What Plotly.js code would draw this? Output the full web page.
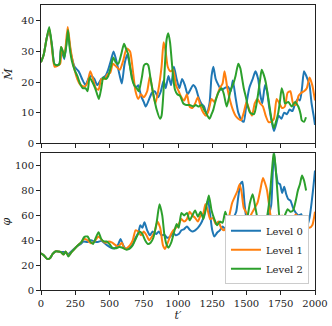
<!DOCTYPE html>
<html>
<head>
<meta charset="utf-8">
<script src="https://cdn.plot.ly/plotly-3.0.1.min.js"></script>
<style>
body{margin:0;background:white;}
#grafik{width:332px;height:326px;}
</style>
</head>
<body>
<div id="grafik"></div>
<script>
let namaLevel=["Level 0","Level 1","Level 2"];
let warna=["#1f77b4","#ff7f0e","#2ca02c"];

// Mdot, level 0
let tMdot0=[0,20,40,60,80,100,120,135,146,170,195,220,245,275,300,325,345,365,390,410,440,470,490,510,530,555,575,590,610,630,650,670,690,710,730,750,765,790,810,830,855,875,895,910,930,950,970,990,1010,1030,1050,1070,1090,1110,1130,1150,1170,1190,1210,1230,1245,1258,1275,1295,1315,1340,1365,1385,1400,1420,1440,1465,1480,1500,1520,1545,1565,1585,1600,1615,1635,1650,1665,1680,1700,1715,1735,1755,1775,1795,1815,1835,1855,1875,1890,1905,1920,1945,1960,1975,1990,2000];
let mdot0=[26.5,29,34,37,32,25.5,25.5,26,31,27.5,36,29,25,23.5,21,19,21,22,21,19,21,22,24,27,30,26,22,19.5,26,29,25,21,18,19,15.5,13.5,12,14.5,16.5,17,15,17,20.5,18,22,19,25,21,18,21,19,16,17.5,19,18,15,13,12,9.5,13,22,25,21,19,17.5,18,18.5,17,20.5,15,10,7.5,7,13,18,21,23.5,21,16,13,19,17,12,8,4,6,9,8,10,9.5,11,10.5,13,14.5,14,18,23.5,21,19,13,9,6];

// Mdot, level 1
let tMdot1=[0,20,40,60,80,100,140,148,170,195,215,240,265,290,320,340,360,380,400,420,440,465,485,505,525,550,575,600,625,650,670,690,710,730,750,775,795,815,835,855,880,895,910,925,945,965,985,1005,1025,1045,1065,1085,1105,1125,1145,1165,1185,1205,1225,1245,1265,1285,1305,1325,1340,1360,1380,1400,1420,1440,1460,1480,1500,1520,1540,1560,1580,1600,1620,1640,1660,1680,1700,1720,1740,1760,1780,1800,1820,1840,1860,1880,1900,1920,1940,1960,1980,2000];
let mdot1=[26.5,29,34,37.5,31,25,26,31.5,28.5,38,31,25,21,19,18.5,20,23.5,21,18,17.5,21,21,22.5,23,26,25,24,27,31,30,24,17,14.5,16,15,17,22,17,13,17,25,33,30,25,23.5,24,19,17,15,14,16,12,11.5,13,15,12,10,9,11,14.5,13.5,15.5,18,19.5,23.5,18,14,11,9,8,7.5,10,13.5,11,9,13,14.5,13,12,9,7,7,8,14.5,13,11.5,12,16.5,17,13,12.5,15.5,16.5,17,18,21.5,19,14];

// Mdot, level 2
let tMdot2=[0,20,40,60,80,97,120,135,146,160,170,185,197,210,225,245,265,285,305,325,340,355,375,395,410,423,440,455,475,491,510,528,545,564,585,606,620,637,650,662,680,698,712,723,738,752,770,783,800,820,844,869,880,893,905,917,929,942,954,966,978,995,1015,1039,1060,1085,1112,1130,1148,1173,1190,1204,1229,1245,1258,1275,1294,1319,1335,1355,1370,1385,1404,1420,1440,1455,1465,1480,1496,1510,1526,1555,1570,1586,1600,1611,1625,1640,1660,1684,1700,1715,1732,1745,1757,1770,1781,1805,1830,1854,1878,1895,1903,1920,1934];
let mdot2=[26.5,29,34,38,32,26,25.5,26,31.5,30,28,32,37,31,27,24,22,19.5,18,18,17,21.5,20,18,16,14.5,18,21.5,21,22,25,28,26.5,26,29,32.5,31,29,25,21.5,19,18,17,18.5,22,25.5,26,25.5,21,16,11,8,9,16,26,34,36,33,27,21,17.5,16,15.5,13,12.5,12.5,12,12.5,12,12.5,11,10,8,9.5,11,14,16.5,18,16,12,14.5,17.5,19.5,22,26,24.5,22,18,15,12,10,9.5,12,16.5,21,24,22.5,20,14.5,7.5,5,7,10,14,18,16,13,13.5,12,13.5,12,9.5,7.5,7,8.5];

// phi, level 0
let tPhi0=[0,20,45,65,85,105,125,145,170,200,230,260,290,310,340,365,390,410,440,470,495,520,545,565,580,600,620,645,670,690,710,725,740,755,775,795,815,840,860,880,900,920,945,965,985,1005,1025,1045,1065,1085,1105,1125,1145,1165,1185,1205,1220,1235,1250,1265,1285,1305,1325,1345,1365,1385,1405,1425,1440,1455,1470,1485,1500,1520,1540,1560,1580,1600,1620,1640,1660,1680,1690,1700,1715,1730,1745,1760,1775,1790,1805,1820,1840,1860,1880,1900,1915,1930,1945,1960,1975,1990,2000];
let phi0=[29.5,28,25,25.5,29,31,31,30.5,30.5,29,32,35,37,39,38.5,40,39,38.5,39.5,37,35,33.5,34,37,41,36,33,34,37,42,46,52,50,54.5,48,44,47,45,47,44,44.5,42,43,46,44,45,48,49,51,48.5,47,48,50,53,58,68,72,60,48,43,46,48,51,49,48,53,58,63,75,85,87,70,58,55,51,50,52,57,58,55,60,68,90,110,95,86,85,78,83,77,73,72,66,62,60,61,53,48,52,58,70,85,96];

// phi, level 1
let tPhi1=[0,20,45,65,85,105,125,145,165,180,200,220,245,270,290,315,340,365,390,420,445,470,495,520,545,565,590,610,630,650,670,690,710,730,750,770,790,810,830,850,870,890,905,925,945,965,985,1005,1025,1045,1065,1085,1105,1125,1145,1165,1185,1200,1215,1235,1255,1275,1295,1315,1335,1355,1375,1395,1415,1435,1450,1465,1480,1500,1520,1540,1560,1580,1600,1620,1635,1650,1665,1680,1700,1720,1740,1760,1780,1800,1820,1840,1860,1880,1900,1920,1940,1960,1980,2000];
let phi1=[29.5,28,25,25.5,29,31,31,30.5,28.5,31,27.5,30,33,36,38,41,40,37.5,39,43,40,38,39,38,36,35,38,33,34,36,40,48,47,44,47,44,40,43,47,55,50,36,33,38,44,48,50,53,57,55,57,63,60,58,55,60,62,69,65,57,58,53,55,50,48,52,60,70,75,80,85,78,66,62,58,62,66,70,80,90,86,80,68,58,56,60,57,60,58,55,54,57,61,57,56,55,52,50,52,63];

// phi, level 2
let tPhi2=[0,20,45,65,85,105,125,145,165,180,200,220,245,270,295,315,340,360,380,400,420,440,460,480,500,520,545,570,595,620,645,670,695,720,740,760,780,800,820,845,865,885,900,915,930,950,970,990,1005,1025,1045,1065,1085,1105,1125,1145,1165,1185,1205,1225,1245,1265,1285,1305,1325,1345,1365,1385,1405,1425,1445,1465,1485,1505,1525,1545,1565,1585,1605,1625,1645,1665,1685,1700,1715,1730,1745,1760,1780,1800,1820,1840,1860,1875,1890,1905,1920,1935];
let phi2=[29.5,28,25,25.5,29,31,31,30.5,28.5,31,27,30,33,36,38.5,42.5,43,39,37,42,46.5,41,39,39,37,34,33.5,34.5,34,32.5,33,36,42,47,45,40,37,38,42,55,69,60,45,37,34,38,46,53,50,62,60,62,56,60,64,59,63,57,66,76,64,57,52,55,54,63,56,52,50,48,46,50,54,58,70,77,66,55,48,49,56,70,95,112,95,72,56,55,60,65,63,64,72,80,85,92,88,80];

let tMdot=[tMdot0,tMdot1,tMdot2];
let mdot=[mdot0,mdot1,mdot2];
let tPhi=[tPhi0,tPhi1,tPhi2];
let phi=[phi0,phi1,phi2];

let data=[];

for(let i=0;i<3;i++){
data.push({
x:tMdot[i],
y:mdot[i],
type:"scatter",
mode:"lines",
name:namaLevel[i],
showlegend:false,
line:{color:warna[i],width:2,shape:"spline",smoothing:0.6},
xaxis:"x",
yaxis:"y"
});
}

for(let i=0;i<3;i++){
data.push({
x:tPhi[i],
y:phi[i],
type:"scatter",
mode:"lines",
name:namaLevel[i],
line:{color:warna[i],width:2,shape:"spline",smoothing:0.6},
xaxis:"x2",
yaxis:"y2"
});
}

let fontSerif={family:"DejaVu Serif",size:10,color:"#222"};

let sumbu={
showline:true,
mirror:true,
linecolor:"#222",
linewidth:1,
ticks:"outside",
ticklen:4,
tickcolor:"#222",
showgrid:false,
zeroline:false,
tickfont:fontSerif
};

let layout={
width:332,
height:326,
margin:{l:41,r:17,t:5,b:36},
paper_bgcolor:"white",
plot_bgcolor:"white",
font:fontSerif,
showlegend:true,
xaxis:Object.assign({},sumbu,{
domain:[0,1],
anchor:"y",
range:[0,2000],
tickvals:[0,250,500,750,1000,1250,1500,1750,2000],
showticklabels:false
}),
yaxis:Object.assign({},sumbu,{
domain:[0.515,1],
anchor:"x",
range:[0,45.2],
tickvals:[0,10,20,30,40],
title:{text:"<i>Ṁ</i>",font:{family:"DejaVu Serif",size:11},standoff:6}
}),
xaxis2:Object.assign({},sumbu,{
domain:[0,1],
anchor:"y2",
range:[0,2000],
tickvals:[0,250,500,750,1000,1250,1500,1750,2000],
title:{text:"<i>t′</i>",font:{family:"DejaVu Serif",size:11},standoff:2}
}),
yaxis2:Object.assign({},sumbu,{
domain:[0,0.48],
anchor:"x2",
range:[0,110],
tickvals:[0,20,40,60,80,100],
title:{text:"<i>φ</i>",font:{family:"DejaVu Serif",size:11},standoff:6}
}),
legend:{
x:0.978,
y:0.02,
xanchor:"right",
yanchor:"bottom",
bgcolor:"white",
bordercolor:"#ccc",
borderwidth:1,
font:{family:"DejaVu Serif",size:10,color:"#222"},
itemwidth:30,
tracegroupgap:0
}
};

Plotly.newPlot("grafik",data,layout,{displayModeBar:false,staticPlot:true});
</script>
</body>
</html>
